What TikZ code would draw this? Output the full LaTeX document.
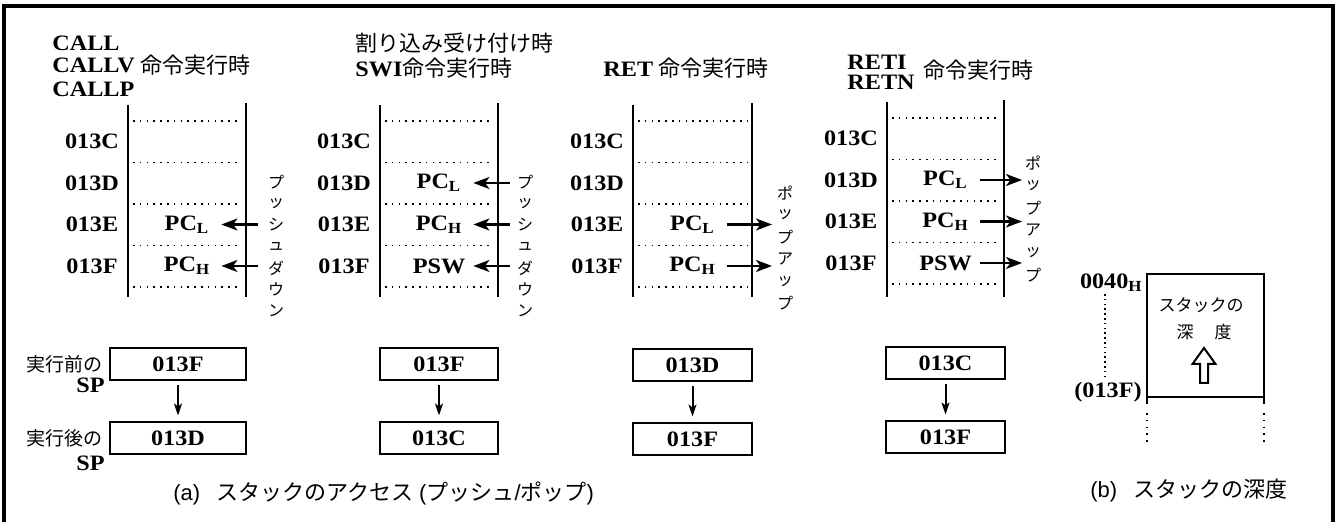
\documentclass[tikz,border=0pt]{standalone}
\usepackage{fontspec}
\setmainfont{Liberation Serif}
\newfontfamily\wideserif[FakeStretch=1.1, UprightFont=* Bold]{Liberation Serif}
\newfontfamily\jpfont{Noto Sans CJK JP}
\newfontfamily\capfont{Liberation Sans}
\usetikzlibrary{arrows.meta}
\newcommand{\lat}[1]{{\wideserif\fontsize{11}{13}\selectfont #1}}
\tikzset{
  hexa/.style={font=\wideserif\fontsize{11}{13}\selectfont, inner sep=0pt},
  cell/.style={hexa, minimum width=34pt},
  jp/.style={font=\jpfont\fontsize{11}{13}\selectfont, inner sep=0pt},
  jpmid/.style={font=\jpfont\fontsize{9.5}{11}\selectfont, inner sep=0pt},
  jpsmall/.style={font=\jpfont\fontsize{8}{9}\selectfont, inner sep=0pt},
  jpbox/.style={font=\jpfont\fontsize{8.5}{10}\selectfont, inner sep=0pt},
  capt/.style={font=\capfont\fontsize{11}{13}\selectfont, inner sep=0pt},
  spbox/.style={draw, line width=1pt, hexa, minimum height=16pt},
  stack/.style={line width=1.1pt},
  slot/.style={line width=0.9pt, dash pattern=on 0.8pt off 2.6pt},
  fine/.style={line width=0.9pt, dash pattern=on 0.8pt off 1.6pt},
  stk/.style={line width=1.1pt, -{Stealth[length=8pt,width=6pt,inset=2.2pt]}},
  sparr/.style={line width=1pt, -{Stealth[length=6pt,width=4pt,inset=1.5pt]},
    shorten <=2pt, shorten >=3pt},
  frame/.style={line width=1.6pt},
}
\begin{document}
\begin{tikzpicture}[x=0.5pt,y=-0.5pt]
\useasboundingbox (0,0) rectangle (1339,522);
\draw[frame] (4,524) -- (4,6) -- (1333,6) -- (1333,524);

%%% titles of the four cases
\node[hexa, anchor=west] (t1a) at (52,43) {CALL};
\node[hexa, anchor=west] (t1b) at (52,65) {CALLV};
\node[jp, anchor=west] (t1j) at (140,65) {命令実行時};
\node[hexa, anchor=west] (t1c) at (52,89) {CALLP};
\node[jp, anchor=west] (t2a) at (355,43) {割り込み受け付け時};
\node[jp, anchor=west] (t2b) at (355,68) {\lat{SWI}命令実行時};
\node[jp, anchor=west] (t3) at (603,68) {\lat{RET} 命令実行時};
\node[hexa, anchor=west] (t4a) at (847,62) {RETI};
\node[hexa, anchor=west] (t4b) at (847,82) {RETN};
\node[jp, anchor=west] (t4j) at (923,70) {命令実行時};

%%% the stack columns with their addresses
\foreach \L/\R/\dy [count=\c] in {128/246/0,380/498/0,633/752/0,887/1004/-3}{
  \draw[stack] (\L,105+\dy) -- (\L,297);
  \draw[stack] (\R,103+\dy) -- (\R,297);
  \foreach \y in {121,162.5,204,245.5,287}
    \draw[slot] (\L+5,\y+\dy) -- (\R-5,\y+\dy);
  \foreach \a [count=\i] in {013C,013D,013E,013F}
    \node[hexa] (a\c-\i) at (\L-36,{141.5+41.5*(\i-1)+\dy}) {\a};
}

%%% stack contents
\node[cell] (c1-3) at (187,224.5) {PC\textsubscript{L}};
\node[cell] (c1-4) at (187,266) {PC\textsubscript{H}};
\node[cell] (c2-2) at (439,183) {PC\textsubscript{L}};
\node[cell] (c2-3) at (439,224.5) {PC\textsubscript{H}};
\node[cell] (c2-4) at (439,266) {PSW};
\node[cell] (c3-3) at (692.5,224.5) {PC\textsubscript{L}};
\node[cell] (c3-4) at (692.5,266) {PC\textsubscript{H}};
\node[cell] (c4-2) at (945.5,180) {PC\textsubscript{L}};
\node[cell] (c4-3) at (945.5,221.5) {PC\textsubscript{H}};
\node[cell] (c4-4) at (945.5,263) {PSW};

\coordinate (e1) at (258,0);
\coordinate (e2) at (510,0);
\coordinate (e3) at (772,0);
\coordinate (e4) at (1022,0);
\foreach \n in {c1-3,c1-4} \draw[stk] (\n.east -| e1) -- (\n.east);
\foreach \n in {c2-2,c2-3,c2-4} \draw[stk] (\n.east -| e2) -- (\n.east);
\foreach \n in {c3-3,c3-4} \draw[stk] (\n.east) -- (\n.east -| e3);
\foreach \n in {c4-2,c4-3,c4-4} \draw[stk] (\n.east) -- (\n.east -| e4);

%%% vertical words
\foreach \ch [count=\i] in {プ,ッ,シ,ュ,ダ,ウ,ン}{
  \node[jpsmall] (v1-\i) at (276,{182+21.5*(\i-1)}) {\ch};
  \node[jpsmall] (v2-\i) at (525,{182+21.5*(\i-1)}) {\ch};
}
\foreach \ch [count=\i] in {ポ,ッ,プ,ア,ッ,プ}{
  \node[jpsmall] (v3-\i) at (785,{193+22*(\i-1)}) {\ch};
  \node[jpsmall] (v4-\i) at (1033,{163+22.4*(\i-1)}) {\ch};
}

%%% SP before and after
\node[jpmid, anchor=east] (bef) at (103,364) {実行前の};
\node[hexa, anchor=east] (bsp) at (105,385) {SP};
\node[jpmid, anchor=east] (aft) at (103,438) {実行後の};
\node[hexa, anchor=east] (asp) at (105,463) {SP};

\node[spbox, minimum width=68pt] (pre1) at (178,364) {013F};
\node[spbox, minimum width=68pt] (post1) at (178,438.5) {013D};
\node[spbox, minimum width=59pt] (pre2) at (439,364) {013F};
\node[spbox, minimum width=59pt] (post2) at (439,438.5) {013C};
\node[spbox, minimum width=59.5pt] (pre3) at (692.5,365) {013D};
\node[spbox, minimum width=59.5pt] (post3) at (692.5,439.5) {013F};
\node[spbox, minimum width=59.5pt] (pre4) at (945.5,363) {013C};
\node[spbox, minimum width=59.5pt] (post4) at (945.5,437.5) {013F};
\foreach \k in {1,2,3,4} \draw[sparr] (pre\k) -- (post\k);

\node[capt, anchor=west] (capa) at (173,493) {(a)\hspace{8pt}{\jpfont スタックのアクセス}\hspace{3pt}({\jpfont プッシュ}/{\jpfont ポップ})};

%%% stack depth
\node[hexa, anchor=east] (d40) at (1143,283) {0040\textsubscript{H}};
\node[hexa, anchor=east] (d3f) at (1142,392) {(013F)};
\draw[fine] (1105,294) -- (1105,378);
\draw[line width=1pt] (1147,404) -- (1147,274) -- (1264,274) -- (1264,404);
\draw[line width=1pt] (1147,397) -- (1264,397);
\draw[slot] (1147,413) -- (1147,442);
\draw[slot] (1264,413) -- (1264,442);
\node[jpbox] (dep1) at (1201,305) {スタックの};
\node[jpbox] (dep2) at (1204,332) {深\hspace{10.5pt}度};
\draw[line width=1pt] (1200,383) -- (1200,364) -- (1192.5,364) -- (1204,348)
  -- (1215.5,364) -- (1208,364) -- (1208,383) -- cycle;
\node[capt, anchor=west] (capb) at (1090,491) {(b)\hspace{8pt}{\jpfont スタックの深度}};
\end{tikzpicture}
\end{document}
